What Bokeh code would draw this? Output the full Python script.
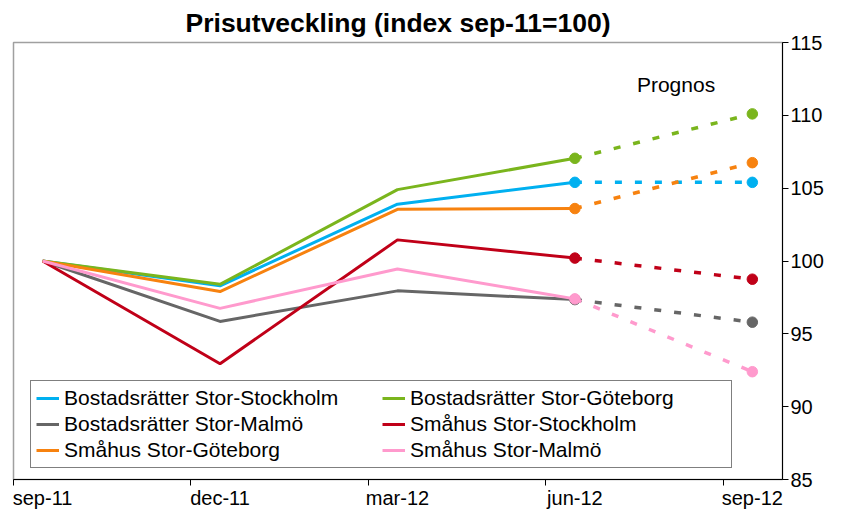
from bokeh.plotting import figure
from bokeh.models import Range1d, FixedTicker, Legend, LegendItem, Label
from bokeh.embed import file_html
from bokeh.resources import INLINE

# ---- data ----
categories = ["sep-11", "dec-11", "mar-12", "jun-12", "sep-12"]
br_stockholm = [100, 98.3, 103.9, 105.4, 105.4]
br_goteborg = [100, 98.4, 104.9, 107.05, 110.1]
br_malmo = [100, 95.85, 97.95, 97.35, 95.8]
sh_stockholm = [100, 92.95, 101.45, 100.2, 98.75]
sh_goteborg = [100, 97.9, 103.55, 103.6, 106.75]
sh_malmo = [100, 96.75, 99.45, 97.4, 92.4]
series_names = [
    "Bostadsrätter Stor-Stockholm",
    "Bostadsrätter Stor-Göteborg",
    "Bostadsrätter Stor-Malmö",
    "Småhus Stor-Stockholm",
    "Småhus Stor-Göteborg",
    "Småhus Stor-Malmö",
]
series_values = [br_stockholm, br_goteborg, br_malmo, sh_stockholm, sh_goteborg, sh_malmo]
y_ticks = [85, 90, 95, 100, 105, 110, 115]
forecast_from = 3  # index of jun-12, last outcome; forecast to sep-12
title_text = "Prisutveckling (index sep-11=100)"
forecast_label = "Prognos"

colors = ["#00B0F0", "#7AB51D", "#666666", "#C00018", "#F7820F", "#FF9ACD"]
FONT = "Liberation Sans"

xs = list(range(len(categories)))

p = figure(width=826, height=511, output_backend="svg", toolbar_location=None,
           x_range=Range1d(-0.164, 4.17), y_range=Range1d(85, 115),
           y_axis_location="right",
           min_border_left=13, min_border_right=5, min_border_top=42, min_border_bottom=5,
           title=title_text)

p.title.align = "center"
p.title.text_font = FONT
p.title.text_font_size = "26.5px"
p.title.text_font_style = "bold"
p.title.text_color = "black"

p.xgrid.visible = False
p.ygrid.visible = False
p.outline_line_color = "#A0A0A0"
p.outline_line_width = 1.5
p.background_fill_color = "white"
p.border_fill_color = "white"

# x axis
p.xaxis.ticker = FixedTicker(ticks=xs, minor_ticks=[x - 0.164 for x in xs])
p.xaxis.major_label_overrides = {x: c for x, c in zip(xs, categories)}
p.xaxis.major_tick_line_color = None
p.xaxis.major_tick_out = 6
p.xaxis.major_tick_in = 0
p.xaxis.minor_tick_line_color = "black"
p.xaxis.minor_tick_in = 0
p.xaxis.minor_tick_out = 6
p.xaxis.major_label_standoff = 1
p.xaxis.major_label_text_font = FONT
p.xaxis.major_label_text_font_size = "20px"
p.xaxis.major_label_text_color = "black"
p.xaxis.axis_line_color = "black"

# y axis
p.yaxis.ticker = FixedTicker(ticks=y_ticks)
p.yaxis.major_tick_out = 6
p.yaxis.major_tick_in = 0
p.yaxis.minor_tick_line_color = None
p.yaxis.major_label_standoff = 2
p.yaxis.major_label_text_font = FONT
p.yaxis.major_label_text_font_size = "20px"
p.yaxis.major_label_text_color = "black"
p.yaxis.axis_line_color = "black"

solid = {}
for name, vals, color in zip(series_names, series_values, colors):
    r = p.line(xs[:forecast_from + 1], vals[:forecast_from + 1], line_color=color, line_width=3)
    p.line(xs[forecast_from:], vals[forecast_from:], line_color=color, line_width=3.5,
           line_dash="7 13")
    p.scatter(xs[forecast_from:], vals[forecast_from:], marker="circle", size=10.5,
              fill_color=color, line_color=color)
    solid[name] = r

# legend is filled column by column: reorder so rows read like the original
legend_order = [0, 2, 4, 1, 3, 5]
items = [LegendItem(label=series_names[i], renderers=[solid[series_names[i]]]) for i in legend_order]

legend = Legend(items=items, ncols=2, location=(17, 11),
                padding=5, spacing=2, margin=0,
                label_height=22, glyph_height=22, glyph_width=23,
                label_standoff=5, label_width=316,
                label_text_font=FONT, label_text_font_size="21px",
                label_text_color="black",
                border_line_color="black", border_line_width=1,
                background_fill_color="white", background_fill_alpha=1)
p.add_layout(legend)

p.add_layout(Label(x=3.57, y=112.15, text=forecast_label, text_align="center",
                   text_baseline="middle", text_font=FONT, text_font_size="21px",
                   text_color="black"))

open("out.html", "w").write(file_html(p, INLINE))
